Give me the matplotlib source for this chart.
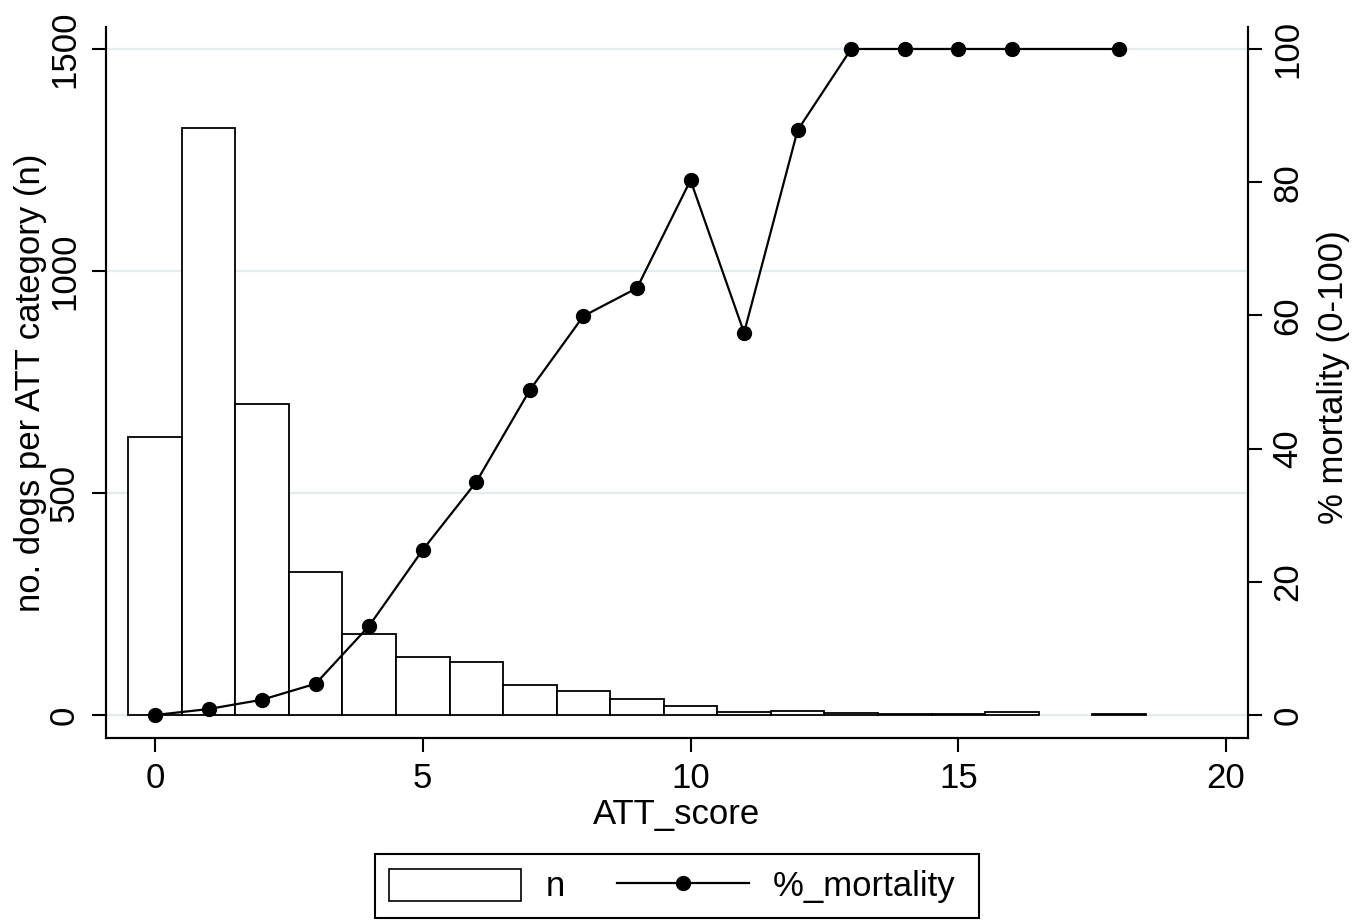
import matplotlib
matplotlib.use("Agg")
import matplotlib.pyplot as plt
from matplotlib.patches import Patch
from matplotlib.lines import Line2D

plt.rcParams['font.family'] = ['Liberation Sans', 'DejaVu Sans']

# ---- data ----
bar_scores = [0, 1, 2, 3, 4, 5, 6, 7, 8, 9, 10, 11, 12, 13, 14, 15, 16, 18]
bar_n = [626, 1322, 700, 322, 182, 131, 119, 68, 54, 36, 21, 6, 10, 5, 2, 2, 6, 2]

mort_scores = [0, 1, 2, 3, 4, 5, 6, 7, 8, 9, 10, 11, 12, 13, 14, 15, 16, 18]
mortality = [0, 0.9, 2.3, 4.7, 13.4, 24.8, 35.0, 48.8, 59.9, 64.1, 80.3, 57.4, 87.8,
             100, 100, 100, 100, 100]

x_ticks = [0, 5, 10, 15, 20]
left_ticks = [0, 500, 1000, 1500]
right_ticks = [0, 20, 40, 60, 80, 100]

FS = 25
W, H = 1362, 921
fig = plt.figure(figsize=(W / 100, H / 100), dpi=100)
ax = fig.add_axes([106 / W, 1 - 738 / H, (1248 - 106) / W, (738 - 27) / H])
ax2 = ax.twinx()

ax.set_axisbelow(True)
for t in left_ticks:
    ax.axhline(t, color='#e3edef', lw=1.6, zorder=0)

ax.bar(bar_scores, bar_n, width=1.0, color='white', edgecolor='black', linewidth=1.3, zorder=2)
ax2.plot(mort_scores, mortality, color='black', lw=1.6, marker='o', markersize=10, zorder=3)

ax.set_xlim(-0.915, 20.41)
ax.set_ylim(-51.8, 1549.5)
ax2.set_ylim(-3.45, 103.3)

ax.set_xticks(x_ticks)
ax.set_yticks(left_ticks)
ax2.set_yticks(right_ticks)

for a in (ax, ax2):
    a.spines['top'].set_visible(False)
    for s in a.spines.values():
        s.set_linewidth(1.5)

ax.tick_params(axis='x', length=10, width=1.5, labelsize=FS, pad=7)
ax.tick_params(axis='y', length=10, width=1.5, labelsize=FS, pad=8)
ax2.tick_params(axis='y', length=10, width=1.5, labelsize=FS, pad=7)
for lbl in ax.get_yticklabels():
    lbl.set_rotation(90)
    lbl.set_va('center')
for lbl in ax2.get_yticklabels():
    lbl.set_rotation(90)
    lbl.set_va('center')

ax.set_xlabel('ATT_score', fontsize=FS)
ax.xaxis.label.set_va('center')
ax.xaxis.set_label_coords(0.5, -0.1076)

ax.set_ylabel('no. dogs per ATT category (n)', fontsize=FS)
ax.yaxis.label.set_va('center')
ax.yaxis.set_label_coords(-0.066, 0.5)

ax2.set_ylabel('% mortality (0-100)', fontsize=FS, rotation=90)
ax2.yaxis.label.set_va('center')
ax2.yaxis.set_label_coords(1.075, 0.508)

handles = [Patch(facecolor='white', edgecolor='black', linewidth=1.2),
           Line2D([], [], color='black', lw=1.6, marker='o', markersize=10)]
leg = fig.legend(handles, ['n', '%_mortality '], loc='center',
                 bbox_to_anchor=(677 / W, 1 - 886 / H), ncol=2, fontsize=FS,
                 handlelength=3.8, handleheight=1.05, handletextpad=0.7,
                 columnspacing=1.5, borderpad=0.43, fancybox=False,
                 framealpha=1, edgecolor='black')
leg.get_frame().set_linewidth(1.5)

fig.savefig('out.png', dpi=100)
